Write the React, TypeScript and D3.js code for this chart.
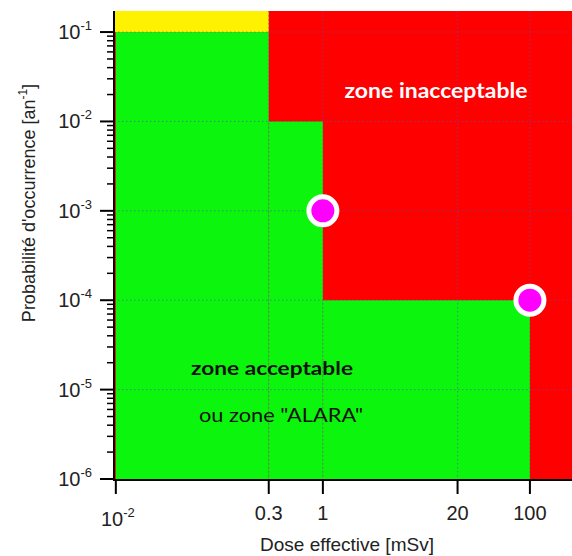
import * as d3 from 'd3';

// axis values
const doseTicks = [0.01, 0.3, 1, 20, 100];
const probTicks = [1e-6, 1e-5, 1e-4, 1e-3, 1e-2, 1e-1];

// staircase limit of the acceptable zone: [dose from, dose to, max probability]
const greenSteps: [number, number, number][] = [
  [0.01, 0.3, 1e-1],
  [0.3, 1, 1e-2],
  [1, 100, 1e-4],
];
// top-left band above the limit
const yellowStep: [number, number, number] = [0.01, 0.3, 1e-1];

const points = [
  { dose: 1, prob: 1e-3 },
  { dose: 100, prob: 1e-4 },
];

const W = 572;
const H = 556;
const m = { left: 114, top: 11, right: 572, bottom: 479 };
const font = '"Liberation Sans", Arial, sans-serif';
const zoneFont = 'Lato, "Open Sans", sans-serif';

function sup(v: number) {
  return Math.round(Math.log10(v));
}

export default function App() {
  const x = d3.scaleLog().domain([0.0096, 255]).range([m.left, m.right]);
  const y = d3.scaleLog().domain([1e-6, 0.172]).range([m.bottom, m.top]);
  const [yTop, yBot] = [y.range()[1], y.range()[0]];

  // minor ticks for the log y axis
  const minor: number[] = [];
  probTicks.forEach(p => {
    for (let k = 2; k <= 9; k++) {
      const v = p * k;
      if (v < y.domain()[1]) minor.push(v);
    }
  });

  return (
    <svg width={W} height={H} style={{ position: 'absolute', left: 0, top: 0, background: '#fff' }}>
      {/* zones */}
      <rect x={m.left} y={yTop} width={m.right - m.left} height={yBot - yTop} fill="#ff0000" />
      {greenSteps.map(([a, b, p], i) => (
        <rect key={i} x={x(a)} y={y(p)} width={x(b) - x(a)} height={yBot - y(p)} fill="#0cf50c" />
      ))}
      <rect x={m.left} y={yTop} width={x(yellowStep[1]) - m.left} height={y(yellowStep[2]) - yTop} fill="#fff200" />

      {/* grid */}
      <g stroke="#5a4fc0" strokeWidth={1} strokeDasharray="1.5,2.5" opacity={0.6}>
        {probTicks.slice(1).map(p => (
          <line key={p} x1={m.left} x2={m.right} y1={y(p)} y2={y(p)} />
        ))}
        {doseTicks.slice(1).map(d => (
          <line key={d} x1={x(d)} x2={x(d)} y1={yTop} y2={yBot} />
        ))}
      </g>

      {/* zone labels */}
      <text x={436} y={98} textAnchor="middle" fill="#fff" fontFamily={zoneFont} fontWeight="bold"
        fontSize={21} textLength={183} lengthAdjust="spacingAndGlyphs">zone inacceptable</text>
      <text x={272} y={375} textAnchor="middle" fill="#111" fontFamily={zoneFont} fontWeight="bold"
        fontSize={19} textLength={162} lengthAdjust="spacingAndGlyphs">zone acceptable</text>
      <text x={281} y={422} textAnchor="middle" fill="#111" fontFamily={zoneFont}
        fontSize={19} textLength={164} lengthAdjust="spacingAndGlyphs">ou zone "ALARA"</text>

      {/* points */}
      {points.map((d, i) => (
        <circle key={i} cx={x(d.dose)} cy={y(d.prob)} r={14} fill="#ff00ff" stroke="#fff" strokeWidth={5} />
      ))}

      {/* y axis */}
      <g stroke="#000">
        <line x1={m.left} x2={m.left} y1={yTop} y2={yBot + 1} strokeWidth={2} />
        {probTicks.map(p => (
          <line key={p} x1={m.left - 14} x2={m.left} y1={y(p)} y2={y(p)} strokeWidth={2} />
        ))}
        {minor.map(v => (
          <line key={v} x1={m.left - 7} x2={m.left} y1={y(v)} y2={y(v)} strokeWidth={1.5} />
        ))}
      </g>
      <g fontFamily={font} fontSize={20} fill="#222" textAnchor="end">
        {probTicks.map(p => (
          <text key={p} x={92} y={y(p) + 7}>
            10<tspan fontSize={13} dy={-9}>{sup(p)}</tspan>
          </text>
        ))}
      </g>
      <text transform={`translate(35,203) rotate(-90)`} textAnchor="middle" fontFamily={font} fontSize={18} fill="#222">
        Probabilité d'occurrence [an<tspan fontSize={12} dy={-8}>-1</tspan><tspan dy={8}>]</tspan>
      </text>

      {/* x axis */}
      <g stroke="#000">
        <line x1={m.left - 1} x2={m.right} y1={yBot + 1} y2={yBot + 1} strokeWidth={2} />
        {doseTicks.map(d => (
          <line key={d} x1={x(d)} x2={x(d)} y1={yBot} y2={yBot + 15} strokeWidth={2} />
        ))}
      </g>
      <g fontFamily={font} fontSize={20} fill="#222" textAnchor="middle">
        {doseTicks.map(d =>
          d < 0.1 ? (
            <text key={d} x={x(d) + 2} y={526}>
              10<tspan fontSize={13} dy={-9}>{sup(d)}</tspan>
            </text>
          ) : (
            <text key={d} x={x(d)} y={520}>{d3.format('~g')(d)}</text>
          )
        )}
      </g>
      <text x={347} y={551} textAnchor="middle" fontFamily={font} fontSize={19} fill="#222">
        Dose effective [mSv]
      </text>
    </svg>
  );
}
